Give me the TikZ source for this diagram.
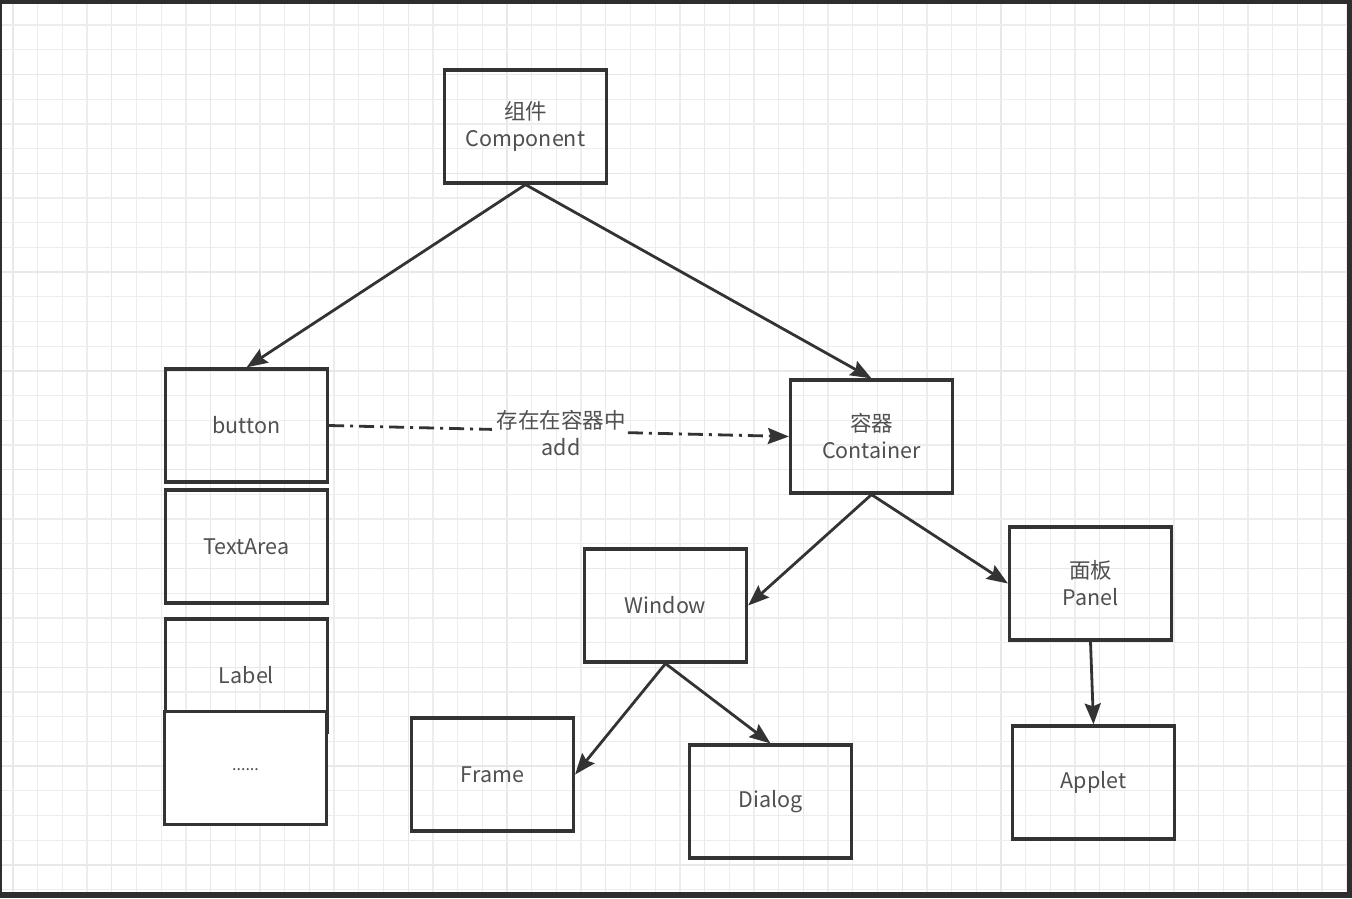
\documentclass[tikz,border=0pt]{standalone}
\usepackage{fontspec}
\setmainfont{Noto Sans CJK SC}
\usetikzlibrary{arrows.meta,calc}
\definecolor{txt}{HTML}{505050}
\definecolor{edge}{HTML}{333333}
\definecolor{gminor}{HTML}{EDEDED}
\definecolor{gmajor}{HTML}{E8E8E8}
\definecolor{frm}{HTML}{2E2E2E}
\begin{document}
\begin{tikzpicture}[x=1pt,y=-1pt,
  box/.style={draw=edge, line width=3.2pt, minimum width=162pt, minimum height=113pt,
    text=txt, align=center, font=\fontsize{21.5}{27}\selectfont, inner sep=0pt},
  conn/.style={draw=edge, line width=2.8pt, -{Stealth[length=21pt,width=16pt,inset=3pt]}},
  dashconn/.style={draw=edge, line width=2.8pt, dash pattern=on 15pt off 6pt on 3pt off 6pt},
  lbl/.style={text=txt, align=center, font=\fontsize{21.5}{27}\selectfont, inner sep=0pt}
]
\useasboundingbox (0,0) rectangle (1352,898);
\fill[white] (0,0) rectangle (1352,898);
% grid
\foreach \k in {0,...,54} {
  \pgfmathtruncatemacro{\m}{mod(\k,4)}
  \ifnum\m=0 \def\gc{gmajor}\else\def\gc{gminor}\fi
  \draw[\gc, line width=1.3pt] ({13+24.7*\k},0) -- ({13+24.7*\k},898);
}
\foreach \k in {1,...,36} {
  \pgfmathtruncatemacro{\m}{mod(\k+1,4)}
  \ifnum\m=0 \def\gc{gmajor}\else\def\gc{gminor}\fi
  \draw[\gc, line width=1.3pt] (0,{0.4+24.7*\k}) -- (1352,{0.4+24.7*\k});
}
% frame
\fill[frm] (0,0) rectangle (1352,4);
\fill[frm] (0,0) rectangle (2,898);
\fill[frm] (1347,0) rectangle (1352,898);
\fill[frm] (0,892) rectangle (1352,898);

% nodes
\node[box] (comp) at (525.5,126.5) {组件\\Component};
\node[box] (button) at (246.5,425.5) {button};
\node[box] (textarea) at (246.5,546.5) {TextArea};
\node[box] (label) at (246.5,675.5) {Label};
\node[box, fill=white, font=\fontsize{16}{18}\selectfont] (more) at (245.5,768) {\raisebox{-6pt}{......}};
\node[box] (cont) at (871.5,436.5) {容器\\Container};
\node[box] (win) at (665.5,605.5) {Window};
\node[box] (panel) at (1090.5,583.5) {面板\\Panel};
\node[box] (frame) at (492.5,774.5) {Frame};
\node[box] (dialog) at (770.5,801.5) {Dialog};
\node[box] (applet) at (1093.5,782.5) {Applet};

% connectors
\draw[conn] (comp.south) -- (button.north);
\draw[conn] (comp.south) -- (cont.north);
\draw[conn] (cont.south) -- (win.east);
\draw[conn] (cont.south) -- (panel.west);
\draw[conn] (win.south) -- (frame.east);
\draw[conn] (win.south) -- (dialog.north);
\draw[conn] (panel.south) -- (applet.north);

% dash-dot connector with label
\node[lbl] (addlbl) at (561,433) {存在在容器中\\add};
\coordinate (g1) at ($(button.east)!0.354!(cont.west)$);
\coordinate (g2) at ($(button.east)!0.65!(cont.west)$);
\draw[dashconn] (button.east) -- (g1);
\draw[dashconn, -{Stealth[length=21pt,width=16pt,inset=3pt]}] (g2) -- (cont.west);
\end{tikzpicture}
\end{document}
